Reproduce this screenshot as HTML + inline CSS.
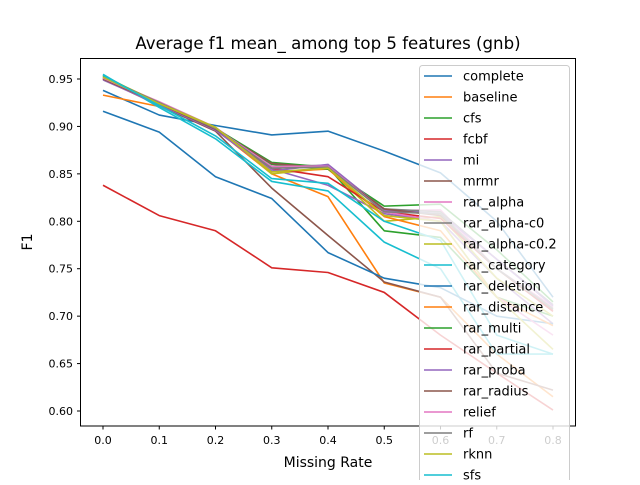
<!DOCTYPE html>
<html><head><meta charset="utf-8"><style>
body{margin:0;background:#fff;font-family:"Liberation Sans","DejaVu Sans",sans-serif;}
svg text{font-family:"DejaVu Sans","Liberation Sans",sans-serif;}
</style></head><body>
<svg id="chart" width="640" height="480" xmlns="http://www.w3.org/2000/svg">
<defs><clipPath id="clip"><rect x="80.5" y="58" width="495" height="368"/></clipPath></defs>
<rect width="640" height="480" fill="#fff"/>
<text x="328" y="49" font-size="16.6" text-anchor="middle">Average f1 mean_ among top 5 features (gnb)</text>
<g id="axes"></g>
<g id="lines" clip-path="url(#clip)"></g>
<rect x="80.5" y="58.5" width="495" height="367.5" fill="none" stroke="#000" stroke-width="1"/>
<g id="legend"></g>
<text x="328" y="467" font-size="14" text-anchor="middle">Missing Rate</text>
<text x="0" y="0" font-size="14" text-anchor="middle" transform="translate(32,242) rotate(-90)">F1</text>
</svg>
<script>
const xValues=[0,0.1,0.2,0.3,0.4,0.5,0.6,0.7,0.8];
const xTicks=[0.0,0.1,0.2,0.3,0.4,0.5,0.6,0.7,0.8];
const yTicks=[0.60,0.65,0.70,0.75,0.80,0.85,0.90,0.95];
const seriesNames=["complete","baseline","cfs","fcbf","mi","mrmr","rar_alpha","rar_alpha-c0","rar_alpha-c0.2","rar_category","rar_deletion","rar_distance","rar_multi","rar_partial","rar_proba","rar_radius","relief","rf","rknn","sfs"];
const seriesColors=["#1f77b4","#ff7f0e","#2ca02c","#d62728","#9467bd","#8c564b","#e377c2","#7f7f7f","#bcbd22","#17becf","#1f77b4","#ff7f0e","#2ca02c","#d62728","#9467bd","#8c564b","#e377c2","#7f7f7f","#bcbd22","#17becf"];
const s_complete=[0.938,0.912,0.901,0.891,0.895,0.874,0.851,0.80,0.72];
const s_baseline=[0.933,0.921,0.897,0.850,0.826,0.735,0.72,0.66,0.615];
const s_cfs=[0.954,0.923,0.898,0.862,0.857,0.790,0.783,0.72,0.700];
const s_fcbf=[0.838,0.806,0.790,0.751,0.746,0.725,0.68,0.64,0.601];
const s_mi=[0.950,0.924,0.896,0.855,0.838,0.808,0.800,0.74,0.692];
const s_mrmr=[0.950,0.922,0.895,0.835,0.785,0.736,0.72,0.64,0.622];
const s_rar_alpha=[0.951,0.926,0.899,0.857,0.857,0.811,0.812,0.75,0.710];
const s_rar_alpha_c0=[0.952,0.925,0.898,0.858,0.859,0.813,0.810,0.76,0.712];
const s_rar_alpha_c02=[0.953,0.925,0.899,0.850,0.856,0.800,0.805,0.74,0.700];
const s_rar_category=[0.955,0.920,0.887,0.842,0.832,0.778,0.750,0.66,0.660];
const s_rar_deletion=[0.916,0.894,0.847,0.824,0.767,0.740,0.730,0.70,0.692];
const s_rar_distance=[0.951,0.924,0.897,0.852,0.855,0.805,0.790,0.72,0.690];
const s_rar_multi=[0.953,0.924,0.898,0.860,0.855,0.816,0.818,0.77,0.715];
const s_rar_partial=[0.951,0.923,0.897,0.856,0.847,0.810,0.803,0.75,0.705];
const s_rar_proba=[0.949,0.923,0.896,0.853,0.860,0.812,0.808,0.76,0.711];
const s_rar_radius=[0.950,0.924,0.897,0.861,0.856,0.813,0.806,0.75,0.707];
const s_relief=[0.951,0.925,0.898,0.858,0.858,0.810,0.800,0.72,0.680];
const s_rf=[0.952,0.925,0.898,0.856,0.857,0.810,0.808,0.75,0.708];
const s_rknn=[0.952,0.924,0.899,0.852,0.856,0.806,0.800,0.72,0.665];
const s_sfs=[0.954,0.922,0.890,0.845,0.840,0.800,0.780,0.68,0.660];
const seriesValues=[s_complete,s_baseline,s_cfs,s_fcbf,s_mi,s_mrmr,s_rar_alpha,s_rar_alpha_c0,s_rar_alpha_c02,s_rar_category,s_rar_deletion,s_rar_distance,s_rar_multi,s_rar_partial,s_rar_proba,s_rar_radius,s_relief,s_rf,s_rknn,s_sfs];

const NS="http://www.w3.org/2000/svg";
function xs(v){return 103+v*562.5;}
function ys(v){return 79+(0.95-v)/0.05*47.43;}
function mk(t,a,p){const e=document.createElementNS(NS,t);for(const k in a)e.setAttribute(k,a[k]);p.appendChild(e);return e;}
const axes=document.getElementById('axes');
xTicks.forEach(t=>{
  const l=mk('line',{x1:xs(t),x2:xs(t),y1:426,y2:429.5,stroke:'#000'},axes);
  
  
  const tx=mk('text',{x:xs(t),y:444,'font-size':11,'text-anchor':'middle'},axes);
  tx.textContent=t.toFixed(1);
  
  
});
yTicks.forEach(t=>{
  const l=mk('line',{x1:77,x2:80.5,y1:ys(t),y2:ys(t),stroke:'#000'},axes);
  
  
  const tx=mk('text',{x:73,y:ys(t)+4,'font-size':11,'text-anchor':'end'},axes);
  tx.textContent=t.toFixed(2);
  
  
});
const lines=document.getElementById('lines');
seriesValues.forEach((vals,i)=>{
  const pts=vals.map((v,j)=>xs(xValues[j])+','+ys(v)).join(' ');
  const p=mk('polyline',{points:pts,fill:'none',stroke:seriesColors[i],'stroke-width':1.6,'stroke-linejoin':'round'},lines);
  
  
});
const lg=document.getElementById('legend');
const box=mk('rect',{x:419.5,y:65.5,width:150,height:430,rx:3,fill:'#fff','fill-opacity':0.8,stroke:'#ccc'},lg);


seriesNames.forEach((n,i)=>{
  const y=76+i*21;
  const g=mk('g',{},lg);
  
  
  mk('line',{x1:424,x2:452,y1:y,y2:y,stroke:seriesColors[i],'stroke-width':1.6},g);
  const t=mk('text',{x:463,y:y+4.5,'font-size':13},g);
  t.textContent=n;
});
</script>
</body></html>
